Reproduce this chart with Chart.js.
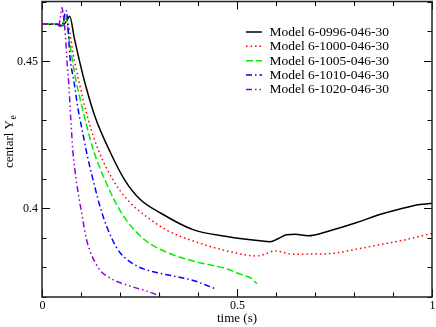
<!DOCTYPE html>
<html>
<head>
<meta charset="utf-8">
<script src="https://cdn.jsdelivr.net/npm/chart.js@4.4.0/dist/chart.umd.min.js"></script>
<style>
  html, body { margin: 0; padding: 0; background: #fff; }
</style>
</head>
<body>
<canvas id="myChart" width="436" height="327"></canvas>
<script>
// data
const seriesNames = ['Model 6-0996-046-30', 'Model 6-1000-046-30', 'Model 6-1005-046-30', 'Model 6-1010-046-30', 'Model 6-1020-046-30'];

const t0996 = [0, 0.039, 0.052, 0.062, 0.071, 0.083, 0.095, 0.110, 0.136, 0.175, 0.213, 0.252, 0.303, 0.387, 0.474, 0.559, 0.585, 0.605, 0.627, 0.649, 0.682, 0.738, 0.807, 0.866, 0.918, 0.969, 1.0];
const ye0996 = [0.4623, 0.4623, 0.4618, 0.4632, 0.4650, 0.4575, 0.4505, 0.4425, 0.4310, 0.4190, 0.4094, 0.4030, 0.3985, 0.3928, 0.3905, 0.3890, 0.3887, 0.3897, 0.3911, 0.3912, 0.3907, 0.3924, 0.3952, 0.3979, 0.3998, 0.4013, 0.4017];

const t1000 = [0, 0.039, 0.052, 0.061, 0.083, 0.094, 0.119, 0.145, 0.183, 0.221, 0.265, 0.323, 0.387, 0.474, 0.551, 0.574, 0.597, 0.644, 0.738, 0.807, 0.866, 0.918, 1.0];
const ye1000 = [0.4623, 0.4623, 0.4618, 0.4645, 0.4500, 0.4434, 0.4298, 0.4196, 0.4094, 0.4026, 0.3975, 0.3924, 0.3890, 0.3856, 0.3839, 0.3846, 0.3856, 0.3845, 0.3847, 0.3862, 0.3877, 0.3890, 0.3915];

const t1005 = [0, 0.039, 0.052, 0.060, 0.070, 0.078, 0.087, 0.111, 0.132, 0.162, 0.205, 0.260, 0.324, 0.387, 0.474, 0.515, 0.533, 0.551];
const ye1005 = [0.4623, 0.4623, 0.4618, 0.4650, 0.4570, 0.4500, 0.4434, 0.4298, 0.4196, 0.4094, 0.3982, 0.3897, 0.3849, 0.3822, 0.3795, 0.3774, 0.3766, 0.3745];

const t1010 = [0, 0.039, 0.050, 0.062, 0.0725, 0.0814, 0.093, 0.1032, 0.116, 0.1314, 0.1519, 0.1793, 0.2008, 0.2433, 0.2777, 0.3033, 0.3878, 0.4132, 0.4481];
const ye1010 = [0.4623, 0.4623, 0.4616, 0.4669, 0.4502, 0.4434, 0.4332, 0.4264, 0.4179, 0.4094, 0.3992, 0.3897, 0.3849, 0.3805, 0.3788, 0.3780, 0.3756, 0.3744, 0.3726];

const t1020 = [0, 0.034, 0.042, 0.047, 0.051, 0.055, 0.060, 0.064, 0.068, 0.074, 0.079, 0.088, 0.102, 0.115, 0.145, 0.175, 0.226, 0.269, 0.303];
const ye1020 = [0.4623, 0.4623, 0.4614, 0.4645, 0.4679, 0.4648, 0.4587, 0.4500, 0.4434, 0.4298, 0.4196, 0.4094, 0.3982, 0.3890, 0.3798, 0.3764, 0.3737, 0.3720, 0.3703];

const xTickLabels = [0, 0.5, 1];
const yTickLabels = [0.4, 0.45];

const colors = ['#000000', '#ff0000', '#00ee00', '#0000ff', '#9400d3'];
const dashes = [[], [1.5, 3], [7, 3], [6, 3, 1.5, 3], [6, 3, 1.5, 3, 1.5, 3]];
const times = [t0996, t1000, t1005, t1010, t1020];
const values = [ye0996, ye1000, ye1005, ye1010, ye1020];

const serif = "'Liberation Serif', 'DejaVu Serif', serif";
const r3 = v => Math.round(v * 1000) / 1000;

const datasets = seriesNames.map((name, i) => ({
  label: name,
  data: times[i].map((t, j) => ({ x: t, y: values[i][j] })),
  borderColor: colors[i],
  borderDash: dashes[i],
  borderWidth: 1.5,
  pointRadius: 0,
  fill: false,
  cubicInterpolationMode: 'monotone',
  order: 5 - i
}));

// inward ticks, tick labels, frame, axis titles and legend
const decor = {
  id: 'decor',
  afterDraw(chart) {
    const { ctx, chartArea: a, scales: { x, y } } = chart;
    ctx.save();
    ctx.strokeStyle = '#000';
    ctx.fillStyle = '#000';
    ctx.lineWidth = 1;
    ctx.font = '12px ' + serif;
    x.ticks.forEach(tk => {
      const v = r3(tk.value);
      const px = Math.round(x.getPixelForValue(v)) + 0.5;
      const major = xTickLabels.includes(v);
      const len = major ? 8 : 4.5;
      ctx.beginPath();
      ctx.moveTo(px, a.bottom); ctx.lineTo(px, a.bottom - len);
      ctx.moveTo(px, a.top); ctx.lineTo(px, a.top + len);
      ctx.stroke();
      if (major) {
        ctx.textAlign = 'center';
        ctx.textBaseline = 'alphabetic';
        ctx.fillText(String(v), px, 309);
      }
    });
    y.ticks.forEach(tk => {
      const v = r3(tk.value);
      const py = Math.round(y.getPixelForValue(v)) + 0.5;
      const major = yTickLabels.includes(v);
      const len = major ? 8 : 4.5;
      ctx.beginPath();
      ctx.moveTo(a.left, py); ctx.lineTo(a.left + len, py);
      ctx.moveTo(a.right, py); ctx.lineTo(a.right - len, py);
      ctx.stroke();
      if (major) {
        ctx.textAlign = 'right';
        ctx.textBaseline = 'middle';
        ctx.fillText(String(v), 38, py);
      }
    });
    ctx.strokeStyle = '#222';
    ctx.lineWidth = 1.5;
    ctx.strokeRect(a.left, a.top, a.right - a.left, a.bottom - a.top);

    // axis titles
    ctx.font = '13px ' + serif;
    ctx.textAlign = 'center';
    ctx.textBaseline = 'middle';
    ctx.fillText('time (s)', (a.left + a.right) / 2, 319);

    ctx.save();
    ctx.translate(13, 168);
    ctx.rotate(-Math.PI / 2);
    ctx.textAlign = 'left';
    ctx.textBaseline = 'alphabetic';
    const main = 'centarl Y';
    ctx.fillText(main, 0, 0);
    const w = ctx.measureText(main).width;
    ctx.font = '9.5px ' + serif;
    ctx.fillText('e', w + 0.5, 3);
    ctx.restore();

    // legend
    ctx.font = '13.5px ' + serif;
    ctx.textAlign = 'left';
    ctx.textBaseline = 'middle';
    chart.data.datasets.forEach((ds, i) => {
      const ly = 32 + i * 14.35;
      ctx.strokeStyle = ds.borderColor;
      ctx.lineWidth = 1.5;
      ctx.setLineDash(ds.borderDash);
      ctx.beginPath();
      ctx.moveTo(246, ly); ctx.lineTo(262, ly);
      ctx.stroke();
      ctx.setLineDash([]);
      ctx.fillStyle = '#000';
      ctx.fillText(ds.label, 269.5, ly + 0.5);
    });
    ctx.restore();
  }
};

const config = {
  type: 'line',
  data: { datasets },
  options: {
    responsive: false,
    animation: false,
    devicePixelRatio: 1,
    layout: { padding: { top: 1.5, right: 4, left: 0, bottom: 0 } },
    plugins: { legend: { display: false }, tooltip: { enabled: false } },
    scales: {
      x: {
        type: 'linear',
        min: 0,
        max: 1,
        grid: { display: false },
        border: { display: false },
        ticks: { display: false, stepSize: 0.1, autoSkip: false },
        afterFit: s => { s.height = 30; s.paddingLeft = 0; s.paddingRight = 0; }
      },
      y: {
        type: 'linear',
        min: 0.37,
        max: 0.47,
        grid: { display: false },
        border: { display: false },
        ticks: { display: false, stepSize: 0.01, autoSkip: false },
        afterFit: s => { s.width = 42; s.paddingTop = 0; s.paddingBottom = 0; }
      }
    }
  },
  plugins: [decor]
};

const myChart = new Chart(document.getElementById('myChart'), config);
</script>
</body>
</html>
